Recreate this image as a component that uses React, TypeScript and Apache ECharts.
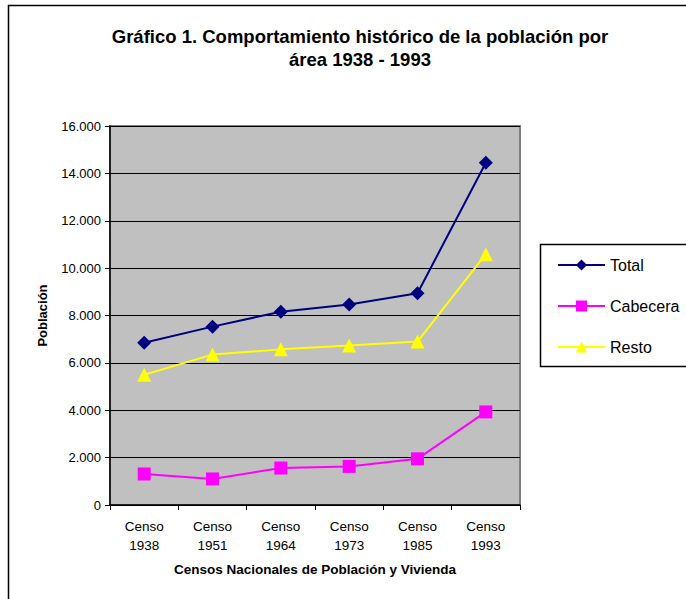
import React, { useEffect, useRef } from "react";
import * as echarts from "echarts";

const categories = ["Censo\n1938", "Censo\n1951", "Censo\n1964", "Censo\n1973", "Censo\n1985", "Censo\n1993"];
const total = [6850, 7530, 8160, 8460, 8940, 14450];
const cabecera = [1310, 1100, 1560, 1630, 1950, 3930];
const resto = [5500, 6350, 6570, 6730, 6900, 10590];
const yTicks = { min: 0, max: 16000, interval: 2000 };

const FONT = "'Liberation Sans', Arial, sans-serif";

function fmt(v: number): string {
  return String(v).replace(/\B(?=(\d{3})+(?!\d))/g, ".");
}

export default function App() {
  const ref = useRef<HTMLDivElement>(null);
  useEffect(() => {
    if (!ref.current) return;
    const chart = echarts.init(ref.current, null, { renderer: "svg" });
    chart.setOption({
      animation: false,
      backgroundColor: "#ffffff",
      textStyle: { fontFamily: FONT },
      title: {
        text: "Gráfico 1. Comportamiento histórico de la población por\nárea 1938 - 1993",
        left: 355,
        top: 20,
        textAlign: "center",
        textStyle: { fontFamily: FONT, fontSize: 18.5, fontWeight: "bold", color: "#000", lineHeight: 23 },
      },
      graphic: [
        {
          type: "rect",
          z: 0,
          silent: true,
          shape: { x: 8.5, y: 5.5, width: 700, height: 700 },
          style: { fill: "none", stroke: "#000", lineWidth: 1.5 },
        },
        {
          type: "rect",
          z: 0,
          silent: true,
          shape: { x: 540.5, y: 244.5, width: 160, height: 122 },
          style: { fill: "none", stroke: "#000", lineWidth: 1.5 },
        },
      ],
      legend: {
        orient: "vertical",
        left: 552,
        top: 252,
        itemWidth: 47,
        itemHeight: 14,
        itemGap: 25,
        z: 10,
        textStyle: { fontFamily: FONT, fontSize: 16, color: "#000" },
        data: ["Total", "Cabecera", "Resto"],
      },
      grid: {
        left: 110,
        right: 166,
        top: 126,
        bottom: 94,
        show: true,
        backgroundColor: "#C0C0C0",
        borderColor: "#808080",
        borderWidth: 2,
      },
      xAxis: {
        type: "category",
        data: categories,
        boundaryGap: true,
        name: "Censos Nacionales de Población y Vivienda",
        nameLocation: "middle",
        nameGap: 57,
        nameTextStyle: { fontFamily: FONT, fontSize: 13.5, fontWeight: "bold", color: "#000" },
        axisLine: { show: true, lineStyle: { color: "#000", width: 1.5 } },
        axisTick: { show: true, length: 5, alignWithLabel: false, lineStyle: { color: "#000" } },
        axisLabel: { fontFamily: FONT, fontSize: 13.5, color: "#000", lineHeight: 19, margin: 12 },
        splitLine: { show: false },
      },
      yAxis: {
        type: "value",
        min: yTicks.min,
        max: yTicks.max,
        interval: yTicks.interval,
        name: "Población",
        nameLocation: "middle",
        nameGap: 61,
        nameTextStyle: { fontFamily: FONT, fontSize: 13, fontWeight: "bold", color: "#000" },
        axisLine: { show: true, lineStyle: { color: "#000", width: 1.5 } },
        axisTick: { show: true, length: 5, lineStyle: { color: "#000" } },
        axisLabel: { fontFamily: FONT, fontSize: 13, color: "#000", margin: 9, formatter: (v: number) => fmt(v) },
        splitLine: { show: true, lineStyle: { color: "#000", width: 1 } },
      },
      series: [
        {
          name: "Total",
          type: "line",
          data: total,
          color: "#000080",
          symbol: "diamond",
          symbolSize: 14,
          lineStyle: { width: 2, color: "#000080" },
          itemStyle: { color: "#000080" },
          z: 5,
        },
        {
          name: "Cabecera",
          type: "line",
          data: cabecera,
          color: "#FF00FF",
          symbol: "rect",
          symbolSize: 13,
          lineStyle: { width: 2, color: "#FF00FF" },
          itemStyle: { color: "#FF00FF" },
          z: 3,
        },
        {
          name: "Resto",
          type: "line",
          data: resto,
          color: "#FFFF00",
          symbol: "triangle",
          symbolSize: 14,
          lineStyle: { width: 2, color: "#FFFF00" },
          itemStyle: { color: "#FFFF00" },
          z: 4,
        },
      ],
    });
    return () => chart.dispose();
  }, []);
  return (
    <div style={{ position: "absolute", left: 0, top: 0 }}>
      <div ref={ref} style={{ width: 686, height: 599 }} />
    </div>
  );
}
